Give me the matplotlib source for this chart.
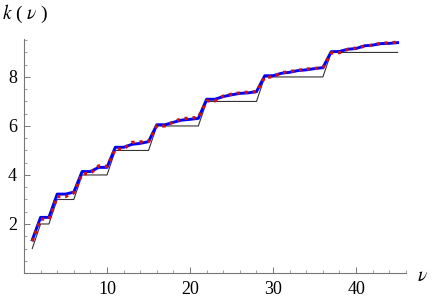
import matplotlib.pyplot as plt
from matplotlib.ticker import MultipleLocator

nu = list(range(1, 46))
k_floor = [1, 2, 2, 3, 3, 3, 4, 4, 4, 4,
           5, 5, 5, 5, 5, 6, 6, 6, 6, 6, 6,
           7, 7, 7, 7, 7, 7, 7, 8, 8, 8, 8, 8, 8, 8, 8,
           9, 9, 9, 9, 9, 9, 9, 9, 9]
k_exact = [1.35, 2.27, 2.27, 3.22, 3.22, 3.30, 4.14, 4.14, 4.31, 4.31,
           5.13, 5.13, 5.25, 5.29, 5.36, 6.05, 6.05, 6.15, 6.24, 6.27, 6.31,
           7.09, 7.09, 7.20, 7.27, 7.33, 7.35, 7.40,
           8.05, 8.05, 8.15, 8.19, 8.26, 8.29, 8.34, 8.38,
           9.03, 9.04, 9.13, 9.16, 9.27, 9.30, 9.36, 9.37, 9.40]
k_approx = [1.30, 2.20, 2.20, 3.12, 3.12, 3.27, 4.05, 4.06, 4.37, 4.35,
            5.06, 5.06, 5.33, 5.35, 5.37, 6.00, 6.00, 6.17, 6.30, 6.32, 6.35,
            7.02, 7.02, 7.22, 7.30, 7.35, 7.38, 7.40,
            7.99, 8.00, 8.17, 8.22, 8.27, 8.32, 8.35, 8.37,
            8.98, 8.99, 9.13, 9.18, 9.25, 9.30, 9.38, 9.39, 9.42]

plt.rcParams["font.family"] = "serif"
plt.rcParams["font.serif"] = ["Liberation Serif", "DejaVu Serif"]
plt.rcParams["mathtext.fontset"] = "stix"

fig = plt.figure(figsize=(4.36, 3.02), dpi=100)
ax = fig.add_axes([0.055, 0.096, 0.876, 0.775])

ax.plot(nu, k_floor, color="#333333", lw=0.8)
ax.plot(nu, k_exact, color="#0000ff", lw=2.1)
ax.plot(nu, k_approx, color="#cc1111", lw=2.3, ls=(0, (1, 1.5)))

ax.set_xlim(0, 46)
ax.set_ylim(0, 9.55)
for s in ["top", "right"]:
    ax.spines[s].set_visible(False)
for s in ["left", "bottom"]:
    ax.spines[s].set_color("#777777")
    ax.spines[s].set_linewidth(0.8)

ax.xaxis.set_minor_locator(MultipleLocator(2))
ax.yaxis.set_minor_locator(MultipleLocator(0.5))
ax.set_xticks([10, 20, 30, 40])
ax.set_yticks([2, 4, 6, 8])
ax.tick_params(which="both", direction="in", color="#777777", labelsize=13)
ax.tick_params(which="major", length=4, width=0.7)
ax.tick_params(which="minor", length=2.5, width=0.5)
ax.tick_params(axis="x", pad=6)
ax.tick_params(axis="y", pad=5)

fig.text(0.005, 0.955, r"$k$ ( $\nu$ )", fontsize=14, va="center", ha="left")
fig.text(0.968, 0.085, r"$\nu$", fontsize=14, va="center", ha="center")

plt.savefig("out.png", dpi=100)
